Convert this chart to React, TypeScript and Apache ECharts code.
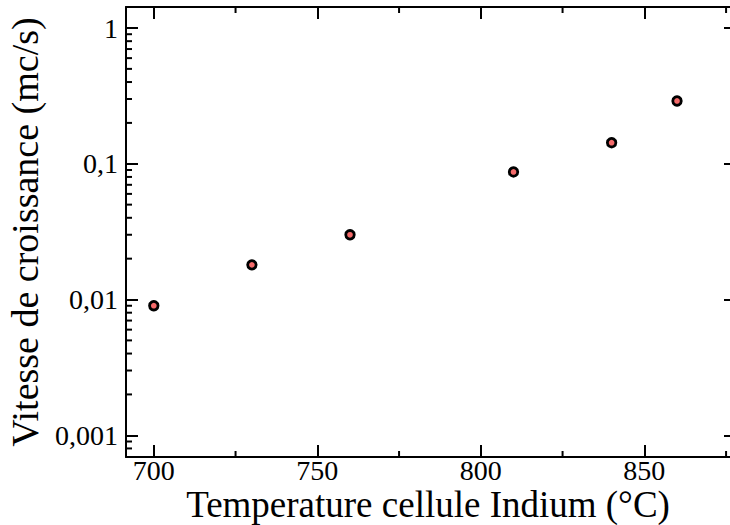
import React, { useEffect, useRef } from "react";
import * as echarts from "echarts";

const temperatures = [700, 730, 760, 810, 840, 860];
const growthRates = [0.009, 0.018, 0.03, 0.087, 0.143, 0.29];

const xMajorTicks = [700, 750, 800, 850];
const xTickLabels = ["700", "750", "800", "850"];
const xMinorTicks = [725, 775, 825, 875];

const yMajorTicks = [0.001, 0.01, 0.1, 1];
const yTickLabels = ["0,001", "0,01", "0,1", "1"];
const yMinorTicks = [
  0.0008, 0.0009,
  0.002, 0.003, 0.004, 0.005, 0.006, 0.007, 0.008, 0.009,
  0.02, 0.03, 0.04, 0.05, 0.06, 0.07, 0.08, 0.09,
  0.2, 0.3, 0.4, 0.5, 0.6, 0.7, 0.8, 0.9,
];

const X_MIN = 691.5;
const X_MAX = 876.2;
const Y_MIN = 0.000692;
const Y_MAX = 1.428;

const FONT = "'Liberation Serif', 'Times New Roman', serif";

export default function App() {
  const ref = useRef<HTMLDivElement>(null);

  useEffect(() => {
    if (!ref.current) return;
    const chart = echarts.init(ref.current, null, { renderer: "svg" });

    const yLabel = (v: number) => {
      for (let i = 0; i < yMajorTicks.length; i++) {
        if (Math.abs(Math.log10(v) - Math.log10(yMajorTicks[i])) < 1e-6) return yTickLabels[i];
      }
      return "";
    };
    const xLabel = (v: number) => {
      const i = xMajorTicks.indexOf(Math.round(v * 1000) / 1000);
      return i >= 0 ? xTickLabels[i] : "";
    };

    const option: any = {
      animation: false,
      backgroundColor: "#ffffff",
      grid: { left: 126, right: 0, top: 7, bottom: 68, containLabel: false, outerBoundsMode: "none" },
      xAxis: [
        {
          type: "value",
          position: "bottom",
          min: X_MIN,
          max: X_MAX,
          splitLine: { show: false },
          axisLine: { show: true, onZero: false, lineStyle: { color: "#000", width: 2 } },
          axisTick: { show: true, inside: true, length: 12, customValues: xMajorTicks, lineStyle: { color: "#000", width: 2 } },
          axisLabel: {
            show: true,
            customValues: xMajorTicks,
            formatter: xLabel,
            margin: 3,
            fontSize: 28,
            lineHeight: 20,
            fontFamily: FONT,
            color: "#000",
          },
          name: "Temperature cellule Indium (°C)",
          nameLocation: "middle",
          nameGap: 35,
          nameMoveOverlap: false,
          nameTextStyle: { fontSize: 37, lineHeight: 24, fontFamily: FONT, color: "#000" },
        },
        {
          type: "value",
          position: "top",
          min: X_MIN,
          max: X_MAX,
          splitLine: { show: false },
          axisLine: { show: true, onZero: false, lineStyle: { color: "#000", width: 2 } },
          axisTick: { show: true, inside: true, length: 12, customValues: xMajorTicks, lineStyle: { color: "#000", width: 2 } },
          axisLabel: { show: false },
        },
      ],
      yAxis: [
        {
          type: "log",
          logBase: 10,
          position: "left",
          min: Y_MIN,
          max: Y_MAX,
          splitLine: { show: false },
          axisLine: { show: true, onZero: false, lineStyle: { color: "#000", width: 2 } },
          axisTick: { show: true, inside: true, length: 12, lineStyle: { color: "#000", width: 2 } },
          axisLabel: {
            show: true,
            formatter: yLabel,
            margin: 8,
            fontSize: 28,
            fontFamily: FONT,
            color: "#000",
            showMinLabel: true,
            showMaxLabel: true,
          },
          name: "Vitesse de croissance (mc/s)",
          nameLocation: "middle",
          nameGap: 82,
          nameMoveOverlap: false,
          nameTextStyle: { fontSize: 38, fontFamily: FONT, color: "#000" },
        },
        {
          type: "log",
          logBase: 10,
          position: "right",
          min: Y_MIN,
          max: Y_MAX,
          splitLine: { show: false },
          axisLine: { show: false },
          axisTick: { show: true, inside: true, length: 6, lineStyle: { color: "#000", width: 2 } },
          axisLabel: { show: false },
        },
      ],
      series: [
        {
          type: "custom",
          name: "xMinor",
          xAxisIndex: 0,
          yAxisIndex: 0,
          silent: true,
          data: xMinorTicks.map((v) => [v, 1]),
          renderItem: (params: any, api: any) => {
            const p = api.coord([api.value(0), 1]);
            const cs = params.coordSys;
            const bottom = cs.y + cs.height;
            const top = cs.y;
            const style = { stroke: "#000", lineWidth: 2 };
            return {
              type: "group",
              children: [
                { type: "line", shape: { x1: p[0], y1: bottom, x2: p[0], y2: bottom - 6 }, style },
                { type: "line", shape: { x1: p[0], y1: top, x2: p[0], y2: top + 6 }, style },
              ],
            };
          },
        },
        {
          type: "custom",
          name: "yMinor",
          xAxisIndex: 0,
          yAxisIndex: 0,
          silent: true,
          data: yMinorTicks.map((v) => [X_MIN, v]),
          renderItem: (params: any, api: any) => {
            const p = api.coord([X_MIN, api.value(1)]);
            const cs = params.coordSys;
            const style = { stroke: "#000", lineWidth: 2 };
            return {
              type: "line",
              shape: { x1: cs.x, y1: p[1], x2: cs.x + 6, y2: p[1] },
              style,
            };
          },
        },
        {
          type: "scatter",
          name: "Vitesse",
          xAxisIndex: 0,
          yAxisIndex: 0,
          symbol: "circle",
          symbolSize: 8.5,
          itemStyle: { color: "#f46a6a", borderColor: "#000", borderWidth: 2.8, opacity: 1 },
          data: temperatures.map((t, i) => [t, growthRates[i]]),
          z: 5,
        },
      ],
    };

    chart.setOption(option);
    return () => chart.dispose();
  }, []);

  return (
    <div
      ref={ref}
      style={{ position: "fixed", left: 0, top: 0, width: 730, height: 525, background: "#fff" }}
    />
  );
}
